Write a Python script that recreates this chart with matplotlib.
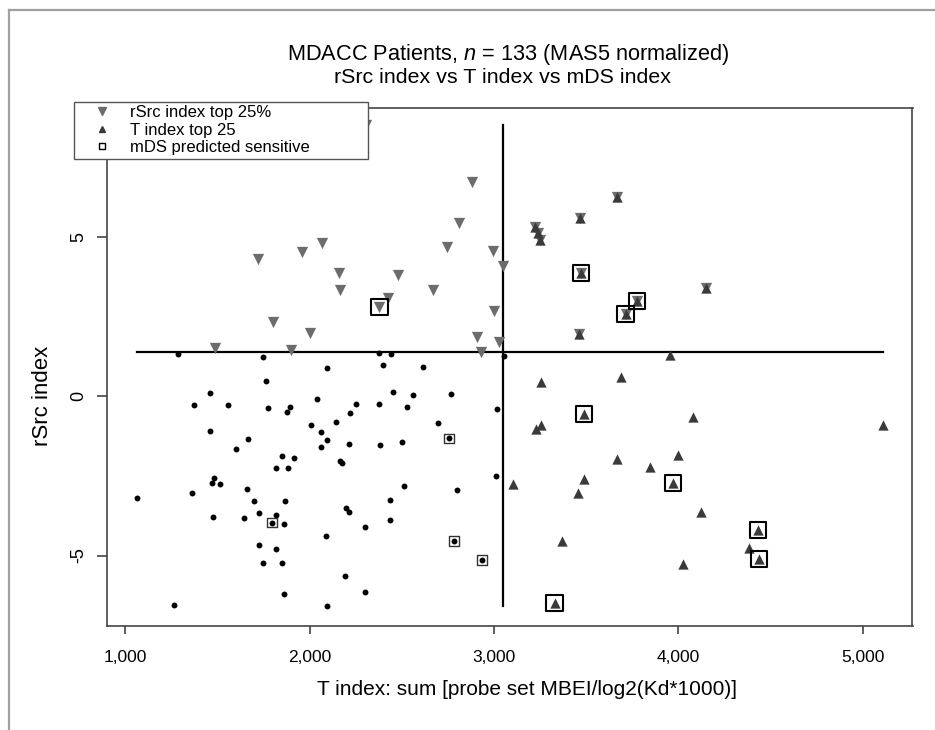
import numpy as np
import matplotlib
matplotlib.use("Agg")
import matplotlib.pyplot as plt
from matplotlib.lines import Line2D

plt.rcParams['font.family'] = ['Liberation Sans', 'DejaVu Sans']
plt.rcParams['mathtext.fontset'] = 'custom'
plt.rcParams['mathtext.rm'] = 'Liberation Sans'
plt.rcParams['mathtext.it'] = 'Liberation Sans:italic'

# patients not in either top group (T index, rSrc index)
dots_x = [1283, 1747, 2376, 2443, 3053, 2092, 2399, 2612, 1761, 1458, 2454, 2558, 2764,
          1373, 1556, 1776, 1892, 1874, 2040, 2251, 2376, 2526, 3017, 2221, 2143, 2007,
          2698, 1458, 2061, 1664, 2092, 2213, 2379, 2502, 2061, 2755, 1599, 1848, 1915,
          1816, 1882, 2163, 2177, 3008, 1481, 1469, 1514, 1359, 1659, 2509, 2801, 1061,
          1700, 1863, 2434, 1474, 1641, 1725, 1817, 1796, 1859, 2195, 2213, 2434, 2300,
          2087, 1725, 1817, 2782, 1749, 1850, 2936, 2190, 2300, 1859, 1263, 2092]
dots_y = [1.32, 1.23, 1.36, 1.32, 1.26, 0.88, 0.98, 0.92, 0.47, 0.08, 0.13, 0.03, 0.07,
          -0.29, -0.29, -0.37, -0.34, -0.50, -0.10, -0.26, -0.26, -0.34, -0.41, -0.54, -0.82, -0.91,
          -0.85, -1.09, -1.12, -1.34, -1.39, -1.50, -1.54, -1.43, -1.60, -1.33, -1.67, -1.87, -1.94,
          -2.25, -2.27, -2.04, -2.11, -2.50, -2.56, -2.72, -2.77, -3.03, -2.92, -2.81, -2.95, -3.19,
          -3.29, -3.29, -3.26, -3.78, -3.83, -3.68, -3.74, -3.97, -4.00, -3.52, -3.64, -3.88, -4.12,
          -4.40, -4.66, -4.81, -4.55, -5.24, -5.24, -5.15, -5.63, -6.13, -6.22, -6.55, -6.58]

# rSrc index top 25% only
rsrc_x = [2305, 2882, 2808, 2065, 1957, 1717, 2746, 2995, 3048, 2161, 2479, 2163, 2668,
          2424, 2378, 1799, 2999, 2000, 2909, 3027, 1485, 1897, 2927]
rsrc_y = [8.50, 6.70, 5.43, 4.81, 4.52, 4.29, 4.68, 4.55, 4.08, 3.87, 3.79, 3.32, 3.32,
          3.06, 2.80, 2.32, 2.67, 1.97, 1.85, 1.70, 1.51, 1.44, 1.38]

# T index top 25 only
tidx_x = [3957, 3252, 3686, 3490, 4077, 5109, 3252, 3230, 3668, 4000, 3848, 3969, 3490,
          3104, 3454, 4123, 4432, 4381, 4435, 3366, 4023, 3328]
tidx_y = [1.29, 0.43, 0.59, -0.56, -0.67, -0.91, -0.91, -1.04, -1.97, -1.84, -2.23, -2.72, -2.61,
          -2.77, -3.05, -3.63, -4.20, -4.77, -5.11, -4.55, -5.28, -6.50]

# in both top groups
both_x = [3668, 3465, 3221, 3240, 3247, 3473, 4150, 3776, 3713, 3460]
both_y = [6.25, 5.57, 5.31, 5.10, 4.89, 3.87, 3.38, 2.99, 2.56, 1.93]

# mDS predicted sensitive
mds_dot_x = [2755, 1796, 2782, 2936]
mds_dot_y = [-1.33, -3.97, -4.55, -5.15]
mds_top_x = [2378, 3473, 3776, 3713, 3490, 3969, 4432, 4435, 3328]
mds_top_y = [2.80, 3.87, 2.99, 2.56, -0.56, -2.72, -4.20, -5.11, -6.50]

rsrc_cut = 1.38
t_cut = 3050

all_x = dots_x + rsrc_x + tidx_x + both_x
all_y = dots_y + rsrc_y + tidx_y + both_y

fig = plt.figure(figsize=(9.35, 7.30), dpi=100)
ax = fig.add_axes([107/935, 1-625.7/730, 805.5/935, 517.7/730])

down_col = '#6c6c6c'
up_col = '#3a3a3a'

ax.scatter(dots_x, dots_y, s=18, c='black', marker='o', linewidths=0, zorder=3)
ax.scatter(rsrc_x + both_x, rsrc_y + both_y, s=66, c=down_col, marker='v', linewidths=0, zorder=3)
ax.scatter(tidx_x + both_x, tidx_y + both_y, s=55, c=up_col, marker='^', linewidths=0, zorder=3)
ax.scatter(mds_top_x, mds_top_y, s=135, marker='s', facecolors='none', edgecolors='black',
           linewidths=1.5, zorder=4)
ax.scatter(mds_dot_x, mds_dot_y, s=48, marker='s', facecolors='none', edgecolors='#333333',
           linewidths=1.0, zorder=4)

# cut-off lines, spanning the data
ax.plot([min(all_x), max(all_x)], [rsrc_cut, rsrc_cut], color='black', lw=1.6, zorder=2)
ax.plot([t_cut, t_cut], [min(all_y), max(all_y)], color='black', lw=1.6, zorder=2)

ax.set_xlim(900, 5270)
ax.set_ylim(-7.2, 9.03)
ax.set_xticks([1000, 2000, 3000, 4000, 5000])
ax.set_xticklabels(['1,000', '2,000', '3,000', '4,000', '5,000'])
ax.set_yticks([-5, 0, 5])
ax.set_yticklabels(['-5', '0', '5'], rotation=90, va='center')
ax.tick_params(axis='x', length=5.5, width=1.1, pad=12, labelsize=12.5, colors='#333333',
               labelcolor='black')
ax.tick_params(axis='y', length=7, width=1.1, pad=7, labelsize=13, colors='#333333',
               labelcolor='black')
for sp in ax.spines.values():
    sp.set_color('#444444')
    sp.set_linewidth(1.2)

ax.set_xlabel('T index: sum [probe set MBEI/log2(Kd*1000)]', fontsize=15)
ax.xaxis.set_label_coords(0.521, -0.105)
ax.set_ylabel('rSrc index', fontsize=16)
ax.yaxis.set_label_coords(-0.067, 0.443)

fig.text(508/935, 1-60/730, r'MDACC Patients, $n$ = 133 (MAS5 normalized)', ha='center',
         va='baseline', fontsize=15.7)
fig.text(502/935, 1-83/730, 'rSrc index vs T index vs mDS index', ha='center',
         va='baseline', fontsize=15.4)

handles = [
    Line2D([], [], ls='none', marker='v', color=down_col, markersize=6),
    Line2D([], [], ls='none', marker='^', color=up_col, markersize=4.5),
    Line2D([], [], ls='none', marker='s', markerfacecolor='none', markeredgecolor='black',
           markersize=5, markeredgewidth=1.0),
]
leg = ax.legend(handles, ['rSrc index top 25%', 'T index top 25', 'mDS predicted sensitive'],
                loc='upper left', bbox_to_anchor=(74/935, 1-162/730, 294/935, 60/730),
                bbox_transform=fig.transFigure, mode='expand', fontsize=12,
                fancybox=False, framealpha=1, edgecolor='#555555', borderpad=0.2,
                labelspacing=0.15, handletextpad=0.25, handlelength=2.9, borderaxespad=0)
leg.get_frame().set_linewidth(1.0)
leg.set_zorder(6)

# outer page frame (top and left)
fig.add_artist(Line2D([9/935, 1], [1-10/730, 1-10/730], color='#a0a0a0', lw=1.6))
fig.add_artist(Line2D([9/935, 9/935], [0, 1-10/730], color='#a0a0a0', lw=1.6))

fig.savefig('out.png', dpi=100)
